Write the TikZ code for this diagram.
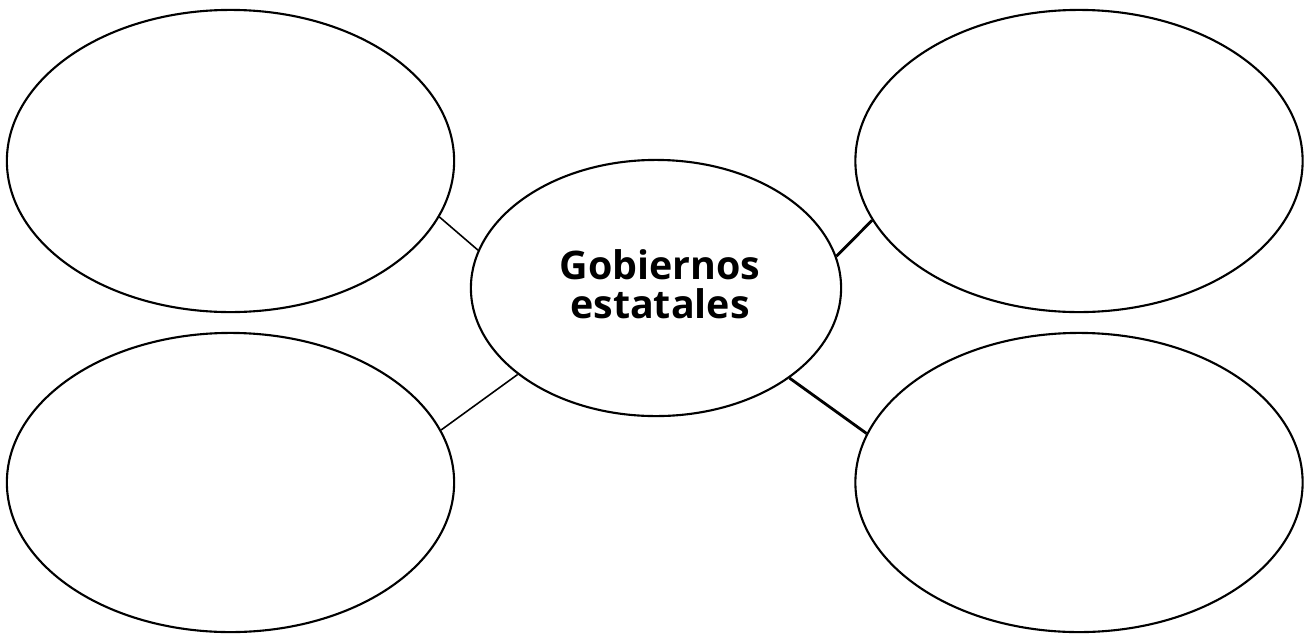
\documentclass[tikz,border=0pt]{standalone}
\usepackage{fontspec}
\setsansfont{Open Sans}
\usetikzlibrary{shapes.geometric}

\begin{document}
\begin{tikzpicture}[x=0.01cm, y=-0.01cm,
bubble/.style={draw, ellipse, line width=0.6pt, inner sep=0, minimum width=4.47cm, minimum height=3.02cm},
thin link/.style={line width=0.45pt},
thick link/.style={line width=0.8pt}]
\useasboundingbox (0, 0) rectangle (1312, 633);

\node[bubble] (tl) at (230.5, 161) {};
\node[bubble, minimum height=2.99cm] (bl) at (230.5, 482.5) {};
\node[bubble] (tr) at (1079, 161) {};
\node[bubble, minimum height=2.99cm] (br) at (1079, 482.5) {};
\node[bubble, minimum width=3.7cm, minimum height=2.56cm] (ctr) at (656, 288) {};
\node[align=center, font=\sffamily\bfseries\fontsize{11.2}{11}\selectfont] (title) at (660, 284) {Gobiernos\\estatales};

\draw[thin link] (tl.-15) -- (ctr.168);
\draw[thin link] (bl.14.6) -- (ctr.-148.7);
\draw[thick link] (tr.-164.6) -- (ctr.10.1);
\draw[thick link] (br.167.9) -- (ctr.-34);
\end{tikzpicture}
\end{document}
